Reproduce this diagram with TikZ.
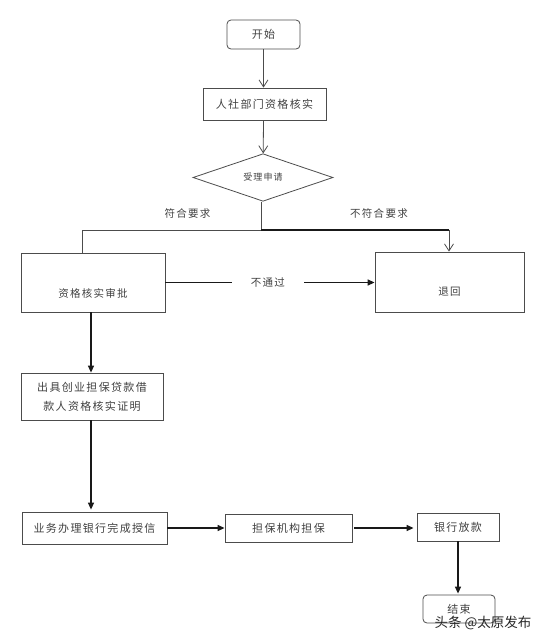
\documentclass[tikz,border=0pt]{standalone}
\usepackage{fontspec}
\setmainfont{Noto Sans CJK SC}
\newfontfamily\cjkspaced[LetterSpace=12]{Noto Sans CJK SC}
\usetikzlibrary{positioning}
\usetikzlibrary{arrows.meta}
\usetikzlibrary{shapes.geometric}
\colorlet{boxlinec}{black!70}
\colorlet{textc}{black!75}
\colorlet{flowc}{black!90}
\tikzset{
  procbox/.style={draw=boxlinec, line width=0.8pt, shape=rectangle, inner sep=0pt, text=textc,
    font=\cjkspaced\fontsize{11}{19}\selectfont},
  termbox/.style={procbox, rounded corners=4pt},
  decbox/.style={draw=boxlinec, line width=0.8pt, shape=diamond, inner sep=0pt, text=textc,
    minimum width=140, minimum height=39, font=\cjkspaced\fontsize{9}{11}\selectfont},
  lbl/.style={text=textc, font=\cjkspaced\fontsize{10.5}{12}\selectfont},
  thinflow/.style={draw=boxlinec, line width=0.8pt},
  openarrow/.style={thinflow, -{Straight Barb[length=7pt,width=9pt]}},
  boldflow/.style={draw=flowc, line width=1.3pt},
  fillarrow/.style={boldflow, -{Triangle[length=7pt,width=6pt]}},
}
\begin{document}
\begin{tikzpicture}[x=1pt,y=-1pt]
        \useasboundingbox (0,0) rectangle (544,641);

        \node[termbox, minimum width=73, minimum height=29] (start) at (263.5,34.5) {开始};
        \node[procbox, minimum width=123, minimum height=32] (verify) at (264.5,104) {人社部门资格核实};
        \node[decbox] (accept) at (263,177.5) {受理申请};
        \node[procbox, minimum width=144, minimum height=59,
          label={[lbl, yshift=-10.5pt]center:资格核实审批}] (approve) at (93,282.5) {};
        \node[procbox, minimum width=149, minimum height=60,
          label={[lbl, yshift=-10pt]center:退回}] (reject) at (449.5,282) {};
        \node[procbox, minimum width=142, minimum height=47, align=center] (certify) at (92,396.5)
          {出具创业担保贷款借\\款人资格核实证明};
        \node[procbox, minimum width=145, minimum height=32] (credit) at (94.5,528) {业务办理银行完成授信};
        \node[procbox, minimum width=127, minimum height=28] (guarantee) at (288.5,528) {担保机构担保};
        \node[procbox, minimum width=82, minimum height=28] (lend) at (458,527) {银行放款};
        \node[termbox, minimum width=72, minimum height=28] (finish) at (459,609) {结束};

        % branch points under the decision
        \coordinate (forkL) at (82,230);
        \coordinate (forkM) at (261,230);
        \coordinate (forkR) at (449,230);

        \draw[openarrow] (start) -- (verify.north -| start);
        \draw[openarrow] (verify.south -| start) -- (accept);
        \draw[thinflow] (accept.south -| forkM) -- (forkM);
        \draw[thinflow] (forkM) -- (forkL) -- (forkL |- approve.north);
        \draw[boldflow] (forkM) -- (forkR);
        \draw[openarrow] (forkR) -- (forkR |- reject.north);
        \node[lbl] (yeslbl) at (187.5,213) {符合要求};
        \node[lbl] (nolbl) at (379,213) {不符合要求};

        \draw[fillarrow] (approve.east) -- node[lbl, fill=white, minimum width=72, inner sep=0pt, pos=0.49] (faillbl) {不通过} (reject.west |- approve.east);
        \draw[fillarrow] ([xshift=-2pt]approve.south) -- ([xshift=-2pt]approve.south |- certify.north);
        \draw[fillarrow, shorten >=2pt] ([xshift=-1pt]certify.south) -- ([xshift=-1pt]certify.south |- credit.north);
        \draw[fillarrow] (credit.east) -- (guarantee.west |- credit.east);
        \draw[fillarrow, shorten <=2pt, shorten >=3pt] (guarantee.east) -- (lend.west |- guarantee.east);
        \draw[fillarrow, shorten >=1pt] (lend.south) -- (lend.south |- finish.north);

        \node[text=black!85, font=\fontsize{13.5}{15}\selectfont] (mark) at (483,623) {头条 @太原发布};
\end{tikzpicture}
\end{document}
